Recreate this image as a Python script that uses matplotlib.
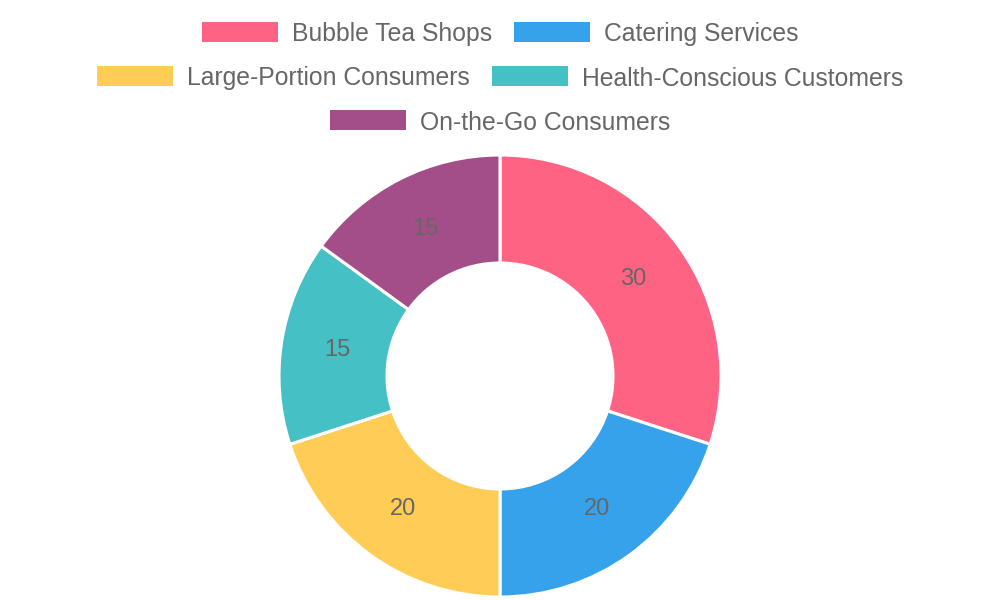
import matplotlib.pyplot as plt
from matplotlib.patches import Rectangle

plt.rcParams['font.family'] = ['Liberation Sans', 'DejaVu Sans']

###################################
# data
###################################
categories = ['Bubble Tea Shops', 'Catering Services', 'Large-Portion Consumers',
              'Health-Conscious Customers', 'On-the-Go Consumers']
values = [30, 20, 20, 15, 15]
colors = ['#FF6384', '#36A2EB', '#FFCD56', '#45C0C4', '#A34E89']

legend_rows = [[0, 1], [2, 3], [4]]

###################################
# figure in pixel coords
###################################
fig = plt.figure(figsize=(10, 6), dpi=100)
ax = fig.add_axes([0, 0, 1, 1])

cx, cy = 500, 600 - 376
r_out, r_in = 221, 113
total = sum(values)

wedges, texts, autotexts = ax.pie(
    values, colors=colors, center=(cx, cy), radius=r_out,
    startangle=90, counterclock=False,
    wedgeprops=dict(width=r_out - r_in, edgecolor='white', linewidth=2.2),
    autopct=lambda p: '%d' % round(p * total / 100.0),
    pctdistance=(r_out + r_in) / 2.0 / r_out - 0.01,
    textprops=dict(color='#666666', fontsize=17))

ax.set_xlim(0, 1000)
ax.set_ylim(0, 600)
ax.set_aspect('auto')
ax.axis('off')

# legend drawn by hand, chart.js style rows
fig.canvas.draw()
renderer = fig.canvas.get_renderer()
box_w, box_h, gap_txt, gap_item = 76, 20, 14, 22
row_y = [32, 76, 120]
fs = 17.8
for row, yy in zip(legend_rows, row_y):
    widths = []
    for i in row:
        t = ax.text(0, 0, categories[i], fontsize=fs)
        widths.append(t.get_window_extent(renderer).width)
        t.remove()
    row_w = sum(box_w + gap_txt + w for w in widths) + gap_item * (len(row) - 1)
    x = 500 - row_w / 2.0
    y = 600 - yy
    for i, w in zip(row, widths):
        ax.add_patch(Rectangle((x, y - box_h / 2.0), box_w, box_h,
                               facecolor=colors[i], edgecolor='none'))
        ax.text(x + box_w + gap_txt, y, categories[i], fontsize=fs,
                color='#666666', va='center_baseline', ha='left')
        x += box_w + gap_txt + w + gap_item

fig.savefig('out.png', dpi=100, facecolor='white')
